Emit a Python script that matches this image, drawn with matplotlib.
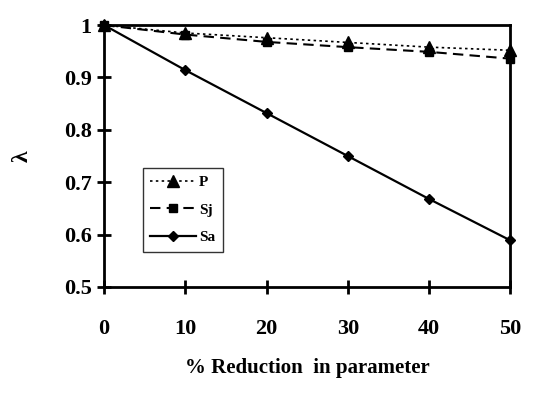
import matplotlib.pyplot as plt
import numpy as np

# % reduction in parameter
x = [0, 10, 20, 30, 40, 50]
lam_P = [1.0, 0.985, 0.976, 0.967, 0.958, 0.952]
lam_Sj = [1.0, 0.982, 0.968, 0.958, 0.949, 0.936]
lam_Sa = [1.0, 0.914, 0.832, 0.750, 0.668, 0.589]

plt.rcParams['font.family'] = 'Liberation Serif'
plt.rcParams['font.weight'] = 'bold'

fig = plt.figure(figsize=(5.37, 3.93), dpi=100)
ax = fig.add_axes([0.194, 0.270, 0.756, 0.666])

ax.plot(x, lam_P, color='black', linestyle=(0, (1.5, 2)), linewidth=1.2,
        marker='^', markersize=8, label='P', clip_on=False)
ax.plot(x, lam_Sj, color='black', linestyle=(0, (5, 3)), linewidth=1.5,
        marker='s', markersize=6, label='Sj', clip_on=False)
ax.plot(x, lam_Sa, color='black', linestyle='-', linewidth=1.6,
        marker='D', markersize=5, label='Sa', clip_on=False)

ax.set_xlim(0, 50)
ax.set_ylim(0.5, 1.0)
ax.set_xticks(x)
ax.set_yticks([0.5, 0.6, 0.7, 0.8, 0.9, 1.0])
ax.set_yticklabels(['0.5', '0.6', '0.7', '0.8', '0.9', '1'])
ax.tick_params(direction='inout', length=10, width=2, labelsize=16)
ax.tick_params(axis='x', pad=18)
ax.tick_params(axis='y', pad=4)
for s in ax.spines.values():
    s.set_linewidth(2)

ax.set_xlabel('% Reduction  in parameter', fontsize=15, fontweight='bold', labelpad=14)
ax.set_ylabel('λ', fontsize=17, fontweight='bold', labelpad=22)

leg = ax.legend(loc='upper left', bbox_to_anchor=(0.095, 0.455), fontsize=11,
                frameon=True, fancybox=False, handlelength=3.0,
                borderpad=0.5, labelspacing=0.9, handletextpad=0.2,
                borderaxespad=0)
leg.get_frame().set_edgecolor('black')
leg.get_frame().set_linewidth(1)

fig.savefig('out.png', dpi=100)
